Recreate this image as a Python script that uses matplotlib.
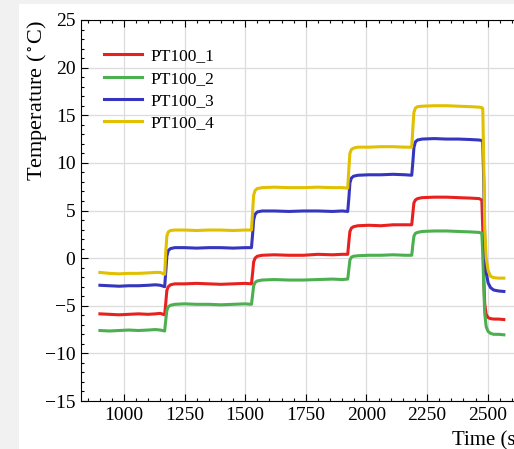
import matplotlib
matplotlib.use('Agg')
import matplotlib.pyplot as plt
from matplotlib.patches import Rectangle
from matplotlib.ticker import MultipleLocator

plt.rcParams['font.family'] = 'serif'
plt.rcParams['font.serif'] = ['Liberation Serif', 'DejaVu Serif']
plt.rcParams['mathtext.fontset'] = 'stix'
plt.rcParams['font.size'] = 12

# time (s)
time = [901, 940, 980, 1020, 1060, 1100, 1130, 1150, 1168,
        1173, 1177, 1183, 1192, 1210,
        1250, 1300, 1350, 1400, 1450, 1500, 1526,
        1531, 1535, 1541, 1550, 1570,
        1620, 1680, 1740, 1800, 1860, 1900, 1923,
        1928, 1932, 1938, 1947, 1965,
        2010, 2060, 2110, 2160, 2187,
        2192, 2196, 2202, 2211, 2230,
        2280, 2330, 2380, 2430, 2465, 2476,
        2480, 2484, 2488, 2494, 2502, 2512, 2525, 2545, 2567]

pt100_1 = [-5.85, -5.9, -5.95, -5.9, -5.85, -5.9, -5.85, -5.8, -5.95,
           -4.6, -3.4, -3.0, -2.8, -2.7,
           -2.7, -2.65, -2.7, -2.75, -2.7, -2.65, -2.7,
           -1.5, -0.4, 0.0, 0.2, 0.3,
           0.35, 0.3, 0.3, 0.4, 0.35, 0.4, 0.4,
           1.8, 2.8, 3.15, 3.3, 3.4,
           3.45, 3.4, 3.5, 3.5, 3.5,
           4.8, 5.8, 6.1, 6.25, 6.35,
           6.4, 6.4, 6.35, 6.3, 6.25, 6.1,
           3.0, -2.0, -4.8, -5.9, -6.25, -6.35, -6.4, -6.4, -6.45]

pt100_2 = [-7.6, -7.65, -7.6, -7.55, -7.6, -7.55, -7.5, -7.55, -7.65,
           -6.4, -5.5, -5.1, -4.95, -4.85,
           -4.8, -4.85, -4.85, -4.9, -4.85, -4.8, -4.85,
           -3.8, -2.9, -2.55, -2.4, -2.3,
           -2.25, -2.3, -2.3, -2.25, -2.2, -2.25, -2.2,
           -1.1, -0.2, 0.1, 0.2, 0.25,
           0.3, 0.3, 0.35, 0.3, 0.3,
           1.5, 2.3, 2.6, 2.7, 2.8,
           2.85, 2.85, 2.8, 2.75, 2.7, 2.6,
           0.5, -3.0, -5.8, -7.2, -7.7, -7.9, -8.0, -8.0, -8.05]

pt100_3 = [-2.85, -2.9, -2.95, -2.9, -2.9, -2.85, -2.8, -2.85, -3.0,
           -1.3, 0.2, 0.8, 1.0, 1.1,
           1.1, 1.05, 1.1, 1.1, 1.05, 1.1, 1.1,
           2.6, 4.0, 4.6, 4.85, 4.95,
           4.95, 4.9, 4.95, 4.95, 4.9, 4.95, 4.9,
           6.4, 7.9, 8.4, 8.6, 8.7,
           8.75, 8.75, 8.8, 8.75, 8.7,
           10.2, 11.6, 12.2, 12.4, 12.5,
           12.55, 12.5, 12.5, 12.45, 12.4, 12.35,
           12.2, 8.0, 2.0, -1.5, -2.6, -3.1, -3.35, -3.45, -3.5]

pt100_4 = [-1.5, -1.6, -1.65, -1.6, -1.6, -1.55, -1.5, -1.5, -1.7,
           0.8, 2.3, 2.75, 2.9, 2.95,
           2.95, 2.9, 2.95, 2.95, 2.9, 2.95, 2.95,
           5.0, 6.6, 7.1, 7.3, 7.4,
           7.45, 7.4, 7.4, 7.45, 7.4, 7.4, 7.35,
           9.5, 11.0, 11.4, 11.55, 11.65,
           11.65, 11.7, 11.7, 11.65, 11.65,
           13.8, 15.3, 15.75, 15.9, 15.95,
           16.0, 16.0, 15.95, 15.9, 15.85, 15.8,
           15.7, 10.0, 3.0, 0.0, -1.3, -1.9, -2.05, -2.1, -2.1]

labels = ['PT100_1', 'PT100_2', 'PT100_3', 'PT100_4']
colors = ['#e8211e', '#4caf50', '#3535bd', '#e0c000']

fig = plt.figure(figsize=(5.14, 4.49), dpi=100, facecolor='#f1f1f1')
fig.patches.append(Rectangle((19 / 514, 0), 1, 445 / 449, transform=fig.transFigure,
                             facecolor='white', edgecolor='none', zorder=-10))
ax = fig.add_axes([81 / 514, 48 / 449, 443 / 514, 381 / 449])
ax.set_zorder(1)

for series, label, color in zip([pt100_1, pt100_2, pt100_3, pt100_4], labels, colors):
    ax.plot(time, series, color=color, lw=2.2, label=label)

ax.set_xlim(823, 2650)
ax.set_ylim(-15, 25)
ax.xaxis.set_major_locator(MultipleLocator(250))
ax.xaxis.set_minor_locator(MultipleLocator(50))
ax.yaxis.set_major_locator(MultipleLocator(5))
ax.yaxis.set_minor_locator(MultipleLocator(1))
ax.tick_params(which='both', direction='in', top=True, right=True, width=0.8,
               labelsize=14)
ax.tick_params(which='major', length=5, pad=4)
ax.tick_params(which='minor', length=2.5)
ax.grid(True, which='major', color='#dcdcdc', lw=0.9)
ax.set_axisbelow(True)

ax.set_xlabel('Time (s)', loc='right', fontsize=15)
ax.xaxis.set_label_coords(1.0 - 2 / 443, -30 / 381)
ax.set_ylabel(r'Temperature ($^\circ$C)', loc='top', labelpad=-3, fontsize=16)

ax.legend(loc='upper left', frameon=False, handlelength=2.2, handletextpad=0.5,
          labelspacing=0.35, borderaxespad=0.4, bbox_to_anchor=(0.02, 0.962),
          fontsize=12.5)

fig.savefig('out.png', dpi=100, facecolor=fig.get_facecolor())
